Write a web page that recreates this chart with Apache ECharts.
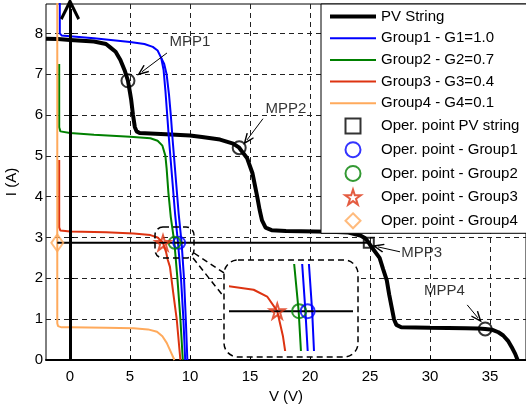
<!DOCTYPE html>
<html>
<head>
<meta charset="utf-8">
<script src="https://cdn.jsdelivr.net/npm/echarts@6/dist/echarts.min.js"></script>
<style>
  html, body { margin: 0; padding: 0; background: #fff; }
  #chart { width: 526px; height: 406px; }
</style>
</head>
<body>
<div id="chart"></div>
<script>
// I-V curves, [V, I]
var pvString = [[-2,7.87],[-1,7.86],[0,7.84],[1,7.82],[2,7.8],[3,7.74],[3.3,7.67],[3.8,7.55],[4.2,7.35],[4.55,7.1],[4.83,6.84],[5.0,6.55],[5.1,6.37],[5.25,6.0],[5.4,5.71],[5.55,5.6],[5.8,5.56],[8,5.53],[10,5.5],[11,5.46],[12.5,5.4],[13.6,5.3],[14.1,5.2],[14.4,5.08],[14.75,4.95],[15.2,4.58],[15.6,4.0],[15.8,3.68],[16.0,3.42],[16.3,3.24],[16.8,3.18],[18,3.16],[21.7,3.14],[23.2,3.12],[24.2,3.05],[24.6,2.98],[24.9,2.87],[25.3,2.7],[25.8,2.5],[26.1,2.22],[26.4,1.95],[26.6,1.6],[26.8,1.3],[27.0,1.0],[27.2,0.86],[27.6,0.8],[30,0.79],[33,0.78],[34,0.77],[34.6,0.76],[35.2,0.74],[35.7,0.68],[36.1,0.6],[36.5,0.47],[36.8,0.32],[37.1,0.15],[37.3,0]];
var group1 = [[-0.85,8.8],[-0.85,8.0],[-0.7,7.95],[0,7.93],[2,7.88],[4,7.82],[5,7.79],[6.2,7.74],[6.9,7.67],[7.3,7.58],[7.6,7.4],[7.8,7.1],[7.95,6.6],[8.1,6.0],[8.25,5.4],[8.5,4.5],[8.75,3.6],[9.0,2.87],[9.25,2.0],[9.45,1.0],[9.6,0]];
var group1b = [[7.6,7.4],[7.85,7.25],[8.05,7.0],[8.25,6.5],[8.4,6.0],[8.55,5.4],[8.8,4.5],[9.05,3.6],[9.3,2.87],[9.5,2.0],[9.65,1.0],[9.78,0]];
var group2 = [[-0.9,7.25],[-0.9,5.7],[-0.8,5.6],[0,5.56],[2,5.52],[5,5.47],[6.7,5.43],[7.3,5.37],[7.7,5.25],[7.95,5.0],[8.05,4.7],[8.2,4.1],[8.4,3.5],[8.7,2.87],[8.95,2.0],[9.2,1.0],[9.4,0]];
var group3 = [[-0.9,4.9],[-0.9,3.25],[-0.8,3.17],[0,3.15],[3,3.13],[5.3,3.1],[6.7,3.06],[7.3,3.0],[7.75,2.87],[8.0,2.65],[8.15,2.45],[8.33,2.28],[8.6,1.65],[8.9,0.98],[9.2,0]];
var group4 = [[-1.06,8.8],[-1.06,0.9],[-1.0,0.83],[-0.7,0.8],[0,0.8],[3,0.79],[5.3,0.78],[6.5,0.75],[7.25,0.69],[7.7,0.58],[8.06,0.42],[8.4,0.2],[8.7,0]];

// operating points
var operLine = [[-1.06,2.87],[24.9,2.87]];
var operPv = [[24.9,2.87]];
var operG1 = [[9.1,2.87]];
var operG2 = [[8.72,2.87]];
var operG3 = [[7.75,2.87]];
var operG4 = [[-1.06,2.87]];

// MPP markers and labels
var mppPoints = [[4.83,6.84],[14.1,5.2],[34.6,0.76]];
var mppLabels = [[10,7.79,'MPP1'],[18,6.15,'MPP2'],[29.3,2.62,'MPP3'],[31.2,1.69,'MPP4']];
var mppArrows = [[[8.08,7.52],[6.0,7.06]],[[16.08,5.91],[14.75,5.39]],[[27.5,2.65],[25.67,2.77]],[[33.1,1.35],[34.0,1.03]]];
var vArrow = [[0,0],[0,8.6]];

var xTicks = [0,5,10,15,20,25,30,35];
var yTicks = [0,1,2,3,4,5,6,7,8];

var C_BLUE = '#0000ff', C_GREEN = '#008000', C_RED = '#dd3311', C_ORANGE = '#ffaa5c';
var font = 'Liberation Sans, Arial, Helvetica, sans-serif';
var starPath = 'path://M50,2 L61,36 L97,36 L68,57 L79,92 L50,71 L21,92 L32,57 L3,36 L39,36 Z';
var chevron = 'path://M10,0 L20,20 L17.5,21.5 L10,7 L2.5,21.5 L0,20 Z';
var clear = 'rgba(0,0,0,0)';
// legend icons
var thickLine = 'path://M0,0 L46,0 L46,4 L0,4 Z';
var thinLine = 'path://M0,0 L46,0 L46,2 L0,2 Z';
var squareIcon = 'path://M0,0 L10,0 L10,10 L0,10 Z';
var diamondIcon = 'path://M8,0 L16,8 L8,16 L0,8 Z';

var chart = echarts.init(document.getElementById('chart'));

function curve(name, data, color, width, axis) {
  return {
    name: name, type: 'line', data: data, symbol: 'none', smooth: false,
    xAxisIndex: axis || 0, yAxisIndex: axis || 0,
    lineStyle: { color: color, width: width }, itemStyle: { color: color },
    z: axis ? 6 : 3, silent: true
  };
}
function point(name, data, symbol, size, color, axis) {
  return {
    name: name, type: 'scatter', data: data, symbol: symbol, symbolSize: size,
    xAxisIndex: axis || 0, yAxisIndex: axis || 0,
    itemStyle: { color: clear, borderColor: color, borderWidth: 2 },
    z: axis ? 7 : 5, silent: true
  };
}
function lineIcon(name, icon, color) {
  return { name: name, icon: icon, itemStyle: { color: color, borderWidth: 0 } };
}

var option = {
  animation: false,
  textStyle: { fontFamily: font },
  grid: [
    { left: 46, top: 4, right: 0, bottom: 46, show: true, borderColor: '#000', borderWidth: 1,
      outerBoundsMode: 'none', containLabel: false },
    { left: 230, top: 265, width: 122, height: 85, outerBoundsMode: 'none' }
  ],
  xAxis: [
    {
      type: 'value', min: -2, max: 38, gridIndex: 0,
      name: 'V (V)', nameLocation: 'middle', nameGap: 28,
      nameTextStyle: { fontSize: 15, color: '#000', fontFamily: font },
      axisLine: { lineStyle: { color: '#000', width: 2 } },
      axisTick: { inside: true, length: 4, customValues: xTicks, lineStyle: { color: '#000' } },
      axisLabel: { customValues: xTicks, margin: 9, fontSize: 15, color: '#000', fontFamily: font },
      splitLine: { show: true, lineStyle: { color: '#222', type: [5, 4], width: 1 } }
    },
    { type: 'value', min: 5.65, max: 11.07, gridIndex: 1, show: false, splitLine: { show: false } }
  ],
  yAxis: [
    {
      type: 'value', min: 0, max: 8.72, gridIndex: 0,
      name: 'I (A)', nameLocation: 'middle', nameGap: 27,
      nameTextStyle: { fontSize: 15, color: '#000', fontFamily: font },
      axisLine: { lineStyle: { color: '#000', width: 2 } },
      axisTick: { inside: true, length: 4, customValues: yTicks, lineStyle: { color: '#000' } },
      axisLabel: { customValues: yTicks, margin: 3, fontSize: 15, color: '#000', fontFamily: font },
      splitLine: { show: true, lineStyle: { color: '#222', type: [5, 4], width: 1 } }
    },
    { type: 'value', min: 2.525, max: 3.28, gridIndex: 1, show: false, splitLine: { show: false } }
  ],
  legend: {
    orient: 'vertical', left: 321, top: 4,
    padding: [5, 40, 4, 9], itemGap: 6.7, itemWidth: 46, itemHeight: 15,
    backgroundColor: '#fff', borderColor: '#000', borderWidth: 1, borderRadius: 0,
    textStyle: { fontSize: 15, color: '#000', fontFamily: font },
    data: [
      lineIcon('PV String', thickLine, '#000'),
      lineIcon('Group1 - G1=1.0', thinLine, C_BLUE),
      lineIcon('Group2 - G2=0.7', thinLine, C_GREEN),
      lineIcon('Group3 - G3=0.4', thinLine, C_RED),
      lineIcon('Group4 - G4=0.1', thinLine, C_ORANGE),
      { name: 'Oper. point PV string', icon: squareIcon },
      { name: 'Oper. point - Group1' },
      { name: 'Oper. point - Group2' },
      { name: 'Oper. point - Group3' },
      { name: 'Oper. point - Group4', icon: diamondIcon }
    ]
  },
  graphic: [
    { type: 'rect', z: 1, shape: { x: 224, y: 260, width: 134, height: 97, r: 14 },
      style: { fill: '#fff', stroke: '#000', lineWidth: 1.5, lineDash: [6, 4] } },
    { type: 'rect', z: 8, shape: { x: 155, y: 227, width: 39, height: 31, r: 8 },
      style: { fill: 'none', stroke: '#000', lineWidth: 1.5, lineDash: [6, 4] } },
    { type: 'line', z: 8, shape: { x1: 194, y1: 253, x2: 224, y2: 273 },
      style: { stroke: '#000', lineWidth: 1.5, lineDash: [6, 4] } },
    { type: 'line', z: 8, shape: { x1: 193, y1: 258, x2: 224, y2: 297 },
      style: { stroke: '#000', lineWidth: 1.5, lineDash: [6, 4] } }
  ],
  series: [
    curve('PV String', pvString, '#000', 4),
    curve('Group1 - G1=1.0', group1, C_BLUE, 2),
    curve('Group1b', group1b, C_BLUE, 2),
    curve('Group2 - G2=0.7', group2, C_GREEN, 2),
    curve('Group3 - G3=0.4', group3, C_RED, 2),
    curve('Group4 - G4=0.1', group4, C_ORANGE, 2),
    curve('oper line', operLine, '#000', 2),
    {
      name: 'axis arrow', type: 'line', data: [], silent: true,
      markLine: {
        silent: true, symbol: ['none', chevron], symbolSize: [20, 22],
        label: { show: false }, lineStyle: { type: 'solid', color: '#000', width: 3 },
        data: [[{ coord: vArrow[0] }, { coord: vArrow[1] }]]
      }
    },
    {
      name: 'mpp arrows', type: 'line', data: [], silent: true,
      markLine: {
        silent: true, symbol: ['none', chevron], symbolSize: [9, 12],
        label: { show: false }, lineStyle: { type: 'solid', color: '#000', width: 1 },
        data: mppArrows.map(function (a) { return [{ coord: a[0] }, { coord: a[1] }]; })
      }
    },
    point('Oper. point PV string', operPv, 'rect', 10, '#000'),
    point('Oper. point - Group1', operG1, 'circle', 12, C_BLUE),
    point('Oper. point - Group2', operG2, 'circle', 12, C_GREEN),
    point('Oper. point - Group3', operG3, starPath, 15, C_RED),
    point('Oper. point - Group4', operG4, 'diamond', [12, 17], C_ORANGE),
    point('MPP', mppPoints, 'circle', 13, '#000'),
    {
      name: 'mpp labels', type: 'scatter', data: mppLabels, symbolSize: 1, silent: true,
      itemStyle: { color: clear },
      label: { show: true, position: 'inside', fontSize: 15, color: '#000', fontFamily: font,
        formatter: function (p) { return p.value[2]; } }
    },
    // zoomed inset
    curve('inset g3', group3, C_RED, 2, 1),
    curve('inset g2', group2, C_GREEN, 2, 1),
    curve('inset g1', group1, C_BLUE, 2, 1),
    curve('inset g1b', group1b, C_BLUE, 2, 1),
    curve('inset oper', operLine, '#000', 2, 1),
    point('inset p3', operG3, starPath, 15, C_RED, 1),
    point('inset p2', operG2, 'circle', 14, C_GREEN, 1),
    point('inset p1', operG1, 'circle', 14, C_BLUE, 1)
  ]
};
chart.setOption(option);
</script>
</body>
</html>
